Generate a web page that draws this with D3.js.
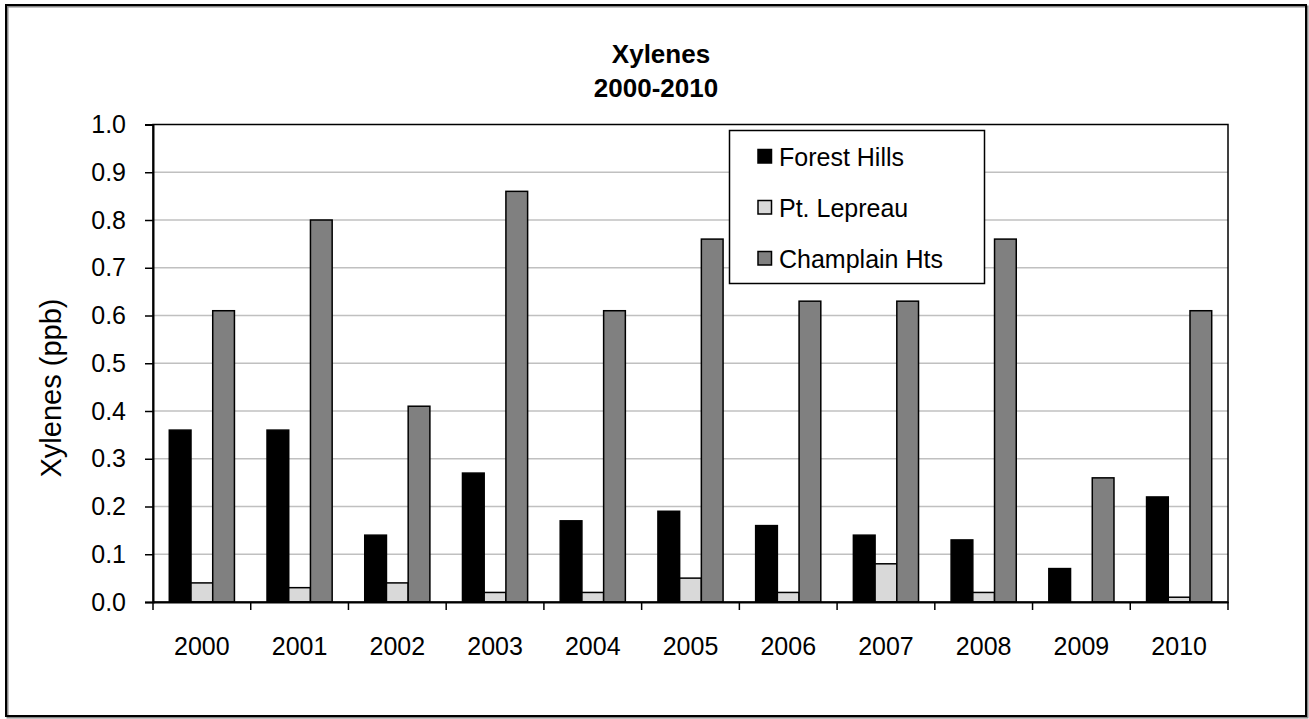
<!DOCTYPE html>
<html>
<head>
<meta charset="utf-8">
<script src="https://cdn.jsdelivr.net/npm/d3@7"></script>
<style>
    body{margin:0;background:#fff;}
    text{font-family:"Liberation Sans",Arial,sans-serif;fill:#000;}
    .tick text{font-size:25px;}
    .title{font-size:26px;font-weight:bold;}
</style>
</head>
<body>
<svg id="graph"></svg>
<script>
var years=["2000","2001","2002","2003","2004","2005","2006","2007","2008","2009","2010"]
var seriesNames=["Forest Hills","Pt. Lepreau","Champlain Hts"]
var forestHills=[0.36,0.36,0.14,0.27,0.17,0.19,0.16,0.14,0.13,0.07,0.22]
var ptLepreau=[0.04,0.03,0.04,0.02,0.02,0.05,0.02,0.08,0.02,null,0.01]
var champlainHts=[0.61,0.80,0.41,0.86,0.61,0.76,0.63,0.63,0.76,0.26,0.61]
var yTicks=[0,0.1,0.2,0.3,0.4,0.5,0.6,0.7,0.8,0.9,1.0]
var colors=["#000000","#d9d9d9","#808080"]

var initGraph=function()
    {
        var screen={width:1309,height:719}
        var margins={left:153,right:81,top:124.5,bottom:117}

        var graph=
            {
                width:screen.width-margins.left-margins.right,
                height:screen.height-margins.top-margins.bottom
            }

        var svg=d3.select("#graph")
            .attr("width",screen.width)
            .attr("height",screen.height)

        // outer chart border
        svg.append("rect")
            .attr("x",7.5).attr("y",6.5)
            .attr("width",1300).attr("height",711)
            .attr("fill","none")
            .attr("stroke","#888")
            .attr("stroke-width",2)
        svg.append("rect")
            .attr("x",6).attr("y",5)
            .attr("width",1300).attr("height",711)
            .attr("fill","none")
            .attr("stroke","#000")
            .attr("stroke-width",2)

        var target=svg.append("g")
            .attr("id","canvas")
            .attr("transform","translate("+margins.left+","+margins.top+")")

        var xScale=d3.scaleBand()
            .domain(years)
            .range([0,graph.width])
            .paddingInner(1/3)
            .paddingOuter(1/6)

        var xSeries=d3.scaleBand()
            .domain(seriesNames)
            .range([0,xScale.bandwidth()])

        var yScale=d3.scaleLinear()
            .domain([0,1])
            .range([graph.height,0])

        drawGrid(target,graph,yScale)
        drawBars(target,xScale,xSeries,yScale)
        drawAxes(target,graph,xScale,yScale)
        drawLabels(svg,margins,graph)
        drawLegend(svg)
    }

var drawGrid=function(target,graph,yScale)
    {
        target.append("g")
            .selectAll("line")
            .data(yTicks.filter(function(d){return d>0 && d<1}))
            .enter()
            .append("line")
            .attr("x1",0)
            .attr("x2",graph.width)
            .attr("y1",function(d){return yScale(d)})
            .attr("y2",function(d){return yScale(d)})
            .attr("stroke","#c0c0c0")
            .attr("stroke-width",1.5)
    }

var drawBars=function(target,xScale,xSeries,yScale)
    {
        var allSeries=[forestHills,ptLepreau,champlainHts]
        allSeries.forEach(function(values,s)
            {
                var recs=years.map(function(year,i){return {year:year,value:values[i]}})
                    .filter(function(r){return r.value!=null})
                target.append("g")
                    .selectAll("rect")
                    .data(recs)
                    .enter()
                    .append("rect")
                    .attr("x",function(r){return xScale(r.year)+xSeries(seriesNames[s])})
                    .attr("y",function(r){return yScale(r.value)})
                    .attr("width",xSeries.bandwidth())
                    .attr("height",function(r){return yScale(0)-yScale(r.value)})
                    .attr("fill",colors[s])
                    .attr("stroke","#000")
                    .attr("stroke-width",1.5)
            })
    }

var drawAxes=function(target,graph,xScale,yScale)
    {
        // plot area frame
        target.append("rect")
            .attr("x",0).attr("y",0)
            .attr("width",graph.width).attr("height",graph.height)
            .attr("fill","none")
            .attr("stroke","#000")
            .attr("stroke-width",1.5)

        var yAxis=d3.axisLeft(yScale)
            .tickValues(yTicks)
            .tickFormat(d3.format(".1f"))
            .tickSize(8)
            .tickPadding(19)
        var yG=target.append("g").call(yAxis)
        yG.select(".domain").attr("stroke-width",2)
        yG.selectAll(".tick line").attr("stroke-width",1.5)

        var xAxis=d3.axisBottom(xScale)
            .tickSize(0)
            .tickPadding(0)
        var xG=target.append("g")
            .attr("transform","translate(0,"+graph.height+")")
            .call(xAxis)
        xG.select(".domain").attr("stroke-width",2)
        xG.selectAll(".tick text")
            .attr("dy",0)
            .attr("y",53)

        // ticks between categories
        var step=xScale.step()
        xG.append("g")
            .selectAll("line")
            .data(d3.range(years.length+1))
            .enter()
            .append("line")
            .attr("x1",function(i){return i*step})
            .attr("x2",function(i){return i*step})
            .attr("y1",0)
            .attr("y2",8)
            .attr("stroke","#000")
            .attr("stroke-width",1.5)
    }

var drawLabels=function(svg,margins,graph)
    {
        var labels=svg.append("g")
        labels.append("text")
            .text("Xylenes")
            .classed("title",true)
            .attr("text-anchor","middle")
            .attr("x",661)
            .attr("y",63)
        labels.append("text")
            .text("2000-2010")
            .classed("title",true)
            .attr("text-anchor","middle")
            .attr("x",656)
            .attr("y",97)
        labels.append("g")
            .attr("transform","translate(61,388)")
            .append("text")
            .text("Xylenes (ppb)")
            .style("font-size","29px")
            .attr("text-anchor","middle")
            .attr("transform","rotate(-90)")
    }

var drawLegend=function(svg)
    {
        var legend=svg.append("g")
        legend.append("rect")
            .attr("x",729.5).attr("y",130.5)
            .attr("width",255).attr("height",153)
            .attr("fill","#fff")
            .attr("stroke","#000")
            .attr("stroke-width",1.5)
        var items=legend.selectAll("g.item")
            .data(seriesNames)
            .enter()
            .append("g")
            .attr("transform",function(d,i){return "translate(758,"+(149.5+i*51)+")"})
        items.append("rect")
            .attr("width",13.5).attr("height",13.5)
            .attr("fill",function(d,i){return colors[i]})
            .attr("stroke","#000")
            .attr("stroke-width",1.5)
        items.append("text")
            .text(function(d){return d})
            .attr("x",21)
            .attr("y",16.5)
            .style("font-size","25px")
    }

initGraph()
</script>
</body>
</html>
